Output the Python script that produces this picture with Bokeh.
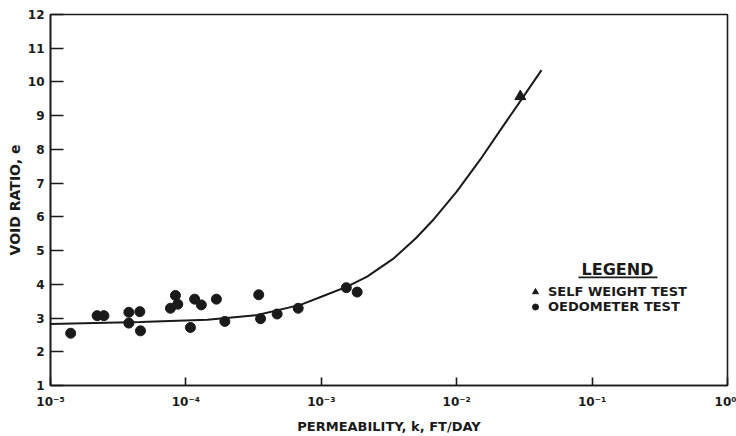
from bokeh.plotting import figure
from bokeh.models import Legend, LegendItem, Label, BoxAnnotation, FixedTicker, Range1d
from bokeh.embed import file_html
from bokeh.resources import INLINE

# fitted curve
curve_k = [1.0e-5, 4.6e-5, 1.44e-4, 3.37e-4, 7.0e-4, 1.0e-3, 1.55e-3, 2.18e-3,
           3.43e-3, 4.97e-3, 6.78e-3, 1.0e-2, 1.5e-2, 2.1e-2, 2.96e-2, 4.23e-2]
curve_e = [2.82, 2.88, 2.95, 3.09, 3.39, 3.63, 3.93, 4.23,
           4.77, 5.36, 5.93, 6.75, 7.71, 8.57, 9.44, 10.35]

# oedometer test points
oed_k = [1.41e-5, 2.21e-5, 2.48e-5, 3.79e-5, 4.57e-5, 3.79e-5, 4.62e-5,
         7.69e-5, 8.37e-5, 8.71e-5, 1.08e-4, 1.16e-4, 1.30e-4, 1.68e-4,
         1.94e-4, 3.45e-4, 3.56e-4, 4.72e-4, 6.75e-4, 1.53e-3, 1.84e-3]
oed_e = [2.55, 3.07, 3.07, 3.17, 3.19, 2.85, 2.62,
         3.29, 3.67, 3.41, 2.72, 3.56, 3.39, 3.56,
         2.90, 3.69, 2.98, 3.12, 3.29, 3.90, 3.77]

# self weight test point
sw_k = [2.95e-2]
sw_e = [9.57]

x_ticks = [1e-5, 1e-4, 1e-3, 1e-2, 1e-1, 1e0]
x_tick_labels = ["10\u207b\u2075", "10\u207b\u2074", "10\u207b\u00b3",
                 "10\u207b\u00b2", "10\u207b\u00b9", "10\u2070"]
y_ticks = list(range(1, 13))

FONT = "DejaVu Sans"
INK = "#1a1a1a"

p = figure(width=736, height=436, x_axis_type="log",
           x_range=Range1d(1e-5, 1.0), y_range=Range1d(1, 12),
           output_backend="svg", toolbar_location=None,
           min_border_left=50, min_border_right=9,
           min_border_top=14, min_border_bottom=50)
p.background_fill_color = "white"
p.border_fill_color = "white"
p.grid.visible = False
p.outline_line_color = INK
p.outline_line_width = 1.6

xa = p.xaxis[0]
xa.ticker = FixedTicker(ticks=x_ticks, minor_ticks=[])
xa.major_label_overrides = {t: l for t, l in zip(x_ticks, x_tick_labels)}
xa.axis_label = "PERMEABILITY, k, FT/DAY"
ya = p.yaxis[0]
ya.ticker = FixedTicker(ticks=y_ticks, minor_ticks=[])
ya.axis_label = "VOID RATIO, e"

for ax, tin in ((xa, 8), (ya, 13)):
    ax.axis_line_color = INK
    ax.axis_line_width = 1.6
    ax.major_tick_in = tin
    ax.major_tick_out = 0
    ax.major_tick_line_color = INK
    ax.major_tick_line_width = 1.6
    ax.minor_tick_line_color = None
    ax.major_label_text_font = FONT
    ax.major_label_text_font_size = "12px"
    ax.major_label_text_font_style = "bold"
    ax.major_label_text_color = INK
    ax.axis_label_text_font = FONT
    ax.axis_label_text_font_style = "bold"
    ax.axis_label_text_color = INK
xa.axis_label_text_font_size = "13px"
ya.axis_label_text_font_size = "14px"
xa.major_label_standoff = 9
xa.axis_label_standoff = 7
ya.major_label_standoff = 6
ya.axis_label_standoff = 2

p.line(curve_k, curve_e, line_color=INK, line_width=2)
circ = p.scatter(oed_k, oed_e, marker="circle", size=10, fill_color=INK,
                 line_color=INK)
tri = p.scatter(sw_k, sw_e, marker="triangle", size=11, fill_color=INK,
                line_color=INK)

legend = Legend(items=[LegendItem(label="SELF WEIGHT TEST", renderers=[tri]),
                       LegendItem(label="OEDOMETER TEST", renderers=[circ])],
                location=(477, 71), padding=0, margin=0, spacing=0,
                glyph_width=16, glyph_height=15, label_height=15,
                label_standoff=5, border_line_color=None,
                background_fill_alpha=0,
                label_text_font=FONT, label_text_font_size="13px",
                label_text_font_style="bold",
                label_text_color=INK)
p.add_layout(legend, "center")

p.add_layout(Label(x=567, y=116, x_units="screen", y_units="screen",
                   text="LEGEND", text_font=FONT, text_font_size="16px",
                   text_font_style="bold",
                   text_color=INK, text_align="center", text_baseline="middle"))
p.add_layout(BoxAnnotation(left=528, right=607, top=109, bottom=107.3,
                           left_units="screen", right_units="screen",
                           top_units="screen", bottom_units="screen",
                           fill_color=INK, fill_alpha=1, line_color=None))

open("out.html", "w").write(file_html(p, INLINE))
